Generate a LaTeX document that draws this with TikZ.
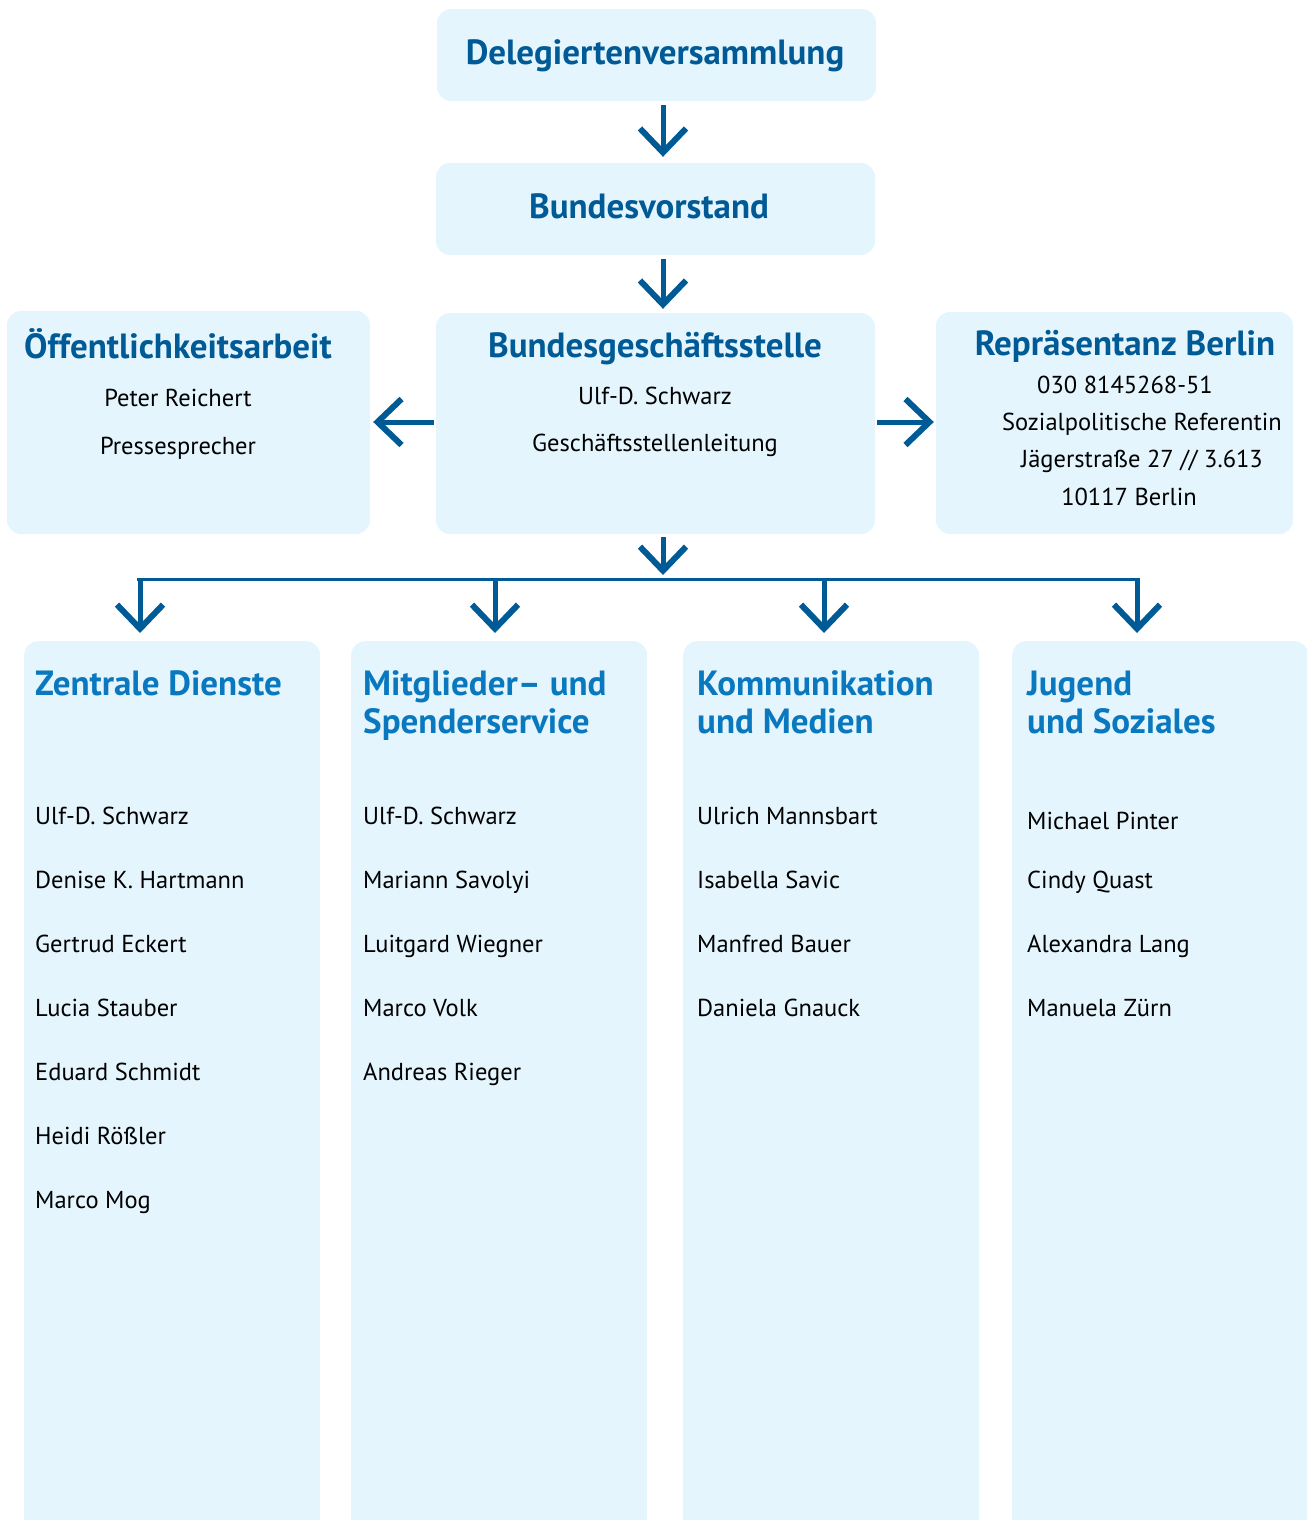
\documentclass[tikz,border=0pt]{standalone}
\usepackage{fontspec}
\setmainfont{PT Sans}
\usetikzlibrary{arrows.meta}
\definecolor{dunkelblau}{HTML}{005A96}
\definecolor{hellblau}{HTML}{0A78BE}
\definecolor{kasten}{HTML}{E4F5FD}
\begin{document}
\begin{tikzpicture}[x=1pt,y=-1pt,
  box/.style={fill=kasten,rounded corners=14pt,inner sep=0pt},
  titel/.style={font=\bfseries\fontsize{35}{40}\selectfont,text=dunkelblau,inner sep=0pt,anchor=base},
  abt/.style={font=\bfseries\fontsize{35}{40}\selectfont,text=hellblau,inner sep=0pt,anchor=base west},
  txt/.style={font=\fontsize{24.5}{28}\selectfont,inner sep=0pt,anchor=base},
  person/.style={font=\fontsize{24.5}{28}\selectfont,inner sep=0pt,anchor=base west},
  pfeil/.style={draw=dunkelblau,line width=5pt,-{Straight Barb[length=24pt,width=46pt,line width=6pt]}}
]
\useasboundingbox (0,0) rectangle (1307,1520);
\clip (0,0) rectangle (1307,1520);
% obere Kaesten
\node[box,minimum width=439pt,minimum height=92pt] (DV) at (656.5,55) {};
\node[titel] at (655,65) {Delegiertenversammlung};
\node[box,minimum width=439pt,minimum height=92pt] (BV) at (655.5,209) {};
\node[titel] at (649,218) {Bundesvorstand};
\node[box,minimum width=439pt,minimum height=221pt] (BG) at (655.5,423.5) {};
\node[titel] at (655,357) {Bundesgeschäftsstelle};
\node[txt] at (655,404) {Ulf-D. Schwarz};
\node[txt] at (655,451) {Geschäftsstellenleitung};
\node[box,minimum width=363pt,minimum height=223pt] (OA) at (188.5,422.5) {};
\node[titel] at (178,358) {Öffentlichkeitsarbeit};
\node[txt] at (178,406) {Peter Reichert};
\node[txt] at (178,454) {Pressesprecher};
\node[box,minimum width=357pt,minimum height=222pt] (RB) at (1114.5,423) {};
\node[titel] at (1125,355) {Repräsentanz Berlin};
\node[txt] at (1125,393) {030 8145268-51};
\node[txt] at (1142,430) {Sozialpolitische Referentin};
\node[txt] at (1142,467) {Jägerstraße 27 // 3.613};
\node[txt] at (1129,505) {10117 Berlin};
% Abteilungen
\node[box,minimum width=296pt,minimum height=920pt,anchor=north west] (ZD) at (24,641) {};
\node[abt] at (35,695) {Zentrale Dienste};
\node[person] at (35,824) {Ulf-D. Schwarz};
\node[person] at (35,888) {Denise K. Hartmann};
\node[person] at (35,952) {Gertrud Eckert};
\node[person] at (35,1016) {Lucia Stauber};
\node[person] at (35,1080) {Eduard Schmidt};
\node[person] at (35,1144) {Heidi Rößler};
\node[person] at (35,1208) {Marco Mog};
\node[box,minimum width=296pt,minimum height=920pt,anchor=north west] (MS) at (351,641) {};
\node[abt] at (363,695) {Mitglieder– und};
\node[abt] at (363,733) {Spenderservice};
\node[person] at (363,824) {Ulf-D. Schwarz};
\node[person] at (363,888) {Mariann Savolyi};
\node[person] at (363,952) {Luitgard Wiegner};
\node[person] at (363,1016) {Marco Volk};
\node[person] at (363,1080) {Andreas Rieger};
\node[box,minimum width=296pt,minimum height=920pt,anchor=north west] (KM) at (683,641) {};
\node[abt] at (697,695) {Kommunikation};
\node[abt] at (697,733) {und Medien};
\node[person] at (697,824) {Ulrich Mannsbart};
\node[person] at (697,888) {Isabella Savic};
\node[person] at (697,952) {Manfred Bauer};
\node[person] at (697,1016) {Daniela Gnauck};
\node[box,minimum width=296pt,minimum height=920pt,anchor=north west] (JS) at (1012,641) {};
\node[abt] at (1027,695) {Jugend};
\node[abt] at (1027,733) {und Soziales};
\node[person] at (1027,829) {Michael Pinter};
\node[person] at (1027,888) {Cindy Quast};
\node[person] at (1027,952) {Alexandra Lang};
\node[person] at (1027,1016) {Manuela Zürn};
% Verteiler
\coordinate (X) at (663,0);
\coordinate (Y) at (0,422);
\coordinate (M) at (663,579);
\coordinate (L) at (137,579);
\coordinate (R) at (1140,579);
\coordinate (A1) at (140,579);
\coordinate (A2) at (495,579);
\coordinate (A3) at (824,579);
\coordinate (A4) at (1137,579);
\path
  (DV.south -| X) edge [pfeil,shorten <=4pt,shorten >=6pt] (BV.north -| X)
  (BV.south -| X) edge [pfeil,shorten <=4pt,shorten >=4pt] (BG.north -| X)
  (BG.west |- Y) edge [pfeil,shorten <=2pt,shorten >=3pt] (OA.east |- Y)
  (BG.east |- Y) edge [pfeil,shorten <=2pt,shorten >=2pt] (RB.west |- Y)
  (BG.south -| M) edge [pfeil,shorten <=3pt,shorten >=4pt] (M)
  (L) edge [draw=dunkelblau,line width=3pt] (R)
  (A1) edge [pfeil,shorten >=8pt] (A1 |- ZD.north)
  (A2) edge [pfeil,shorten >=8pt] (A2 |- MS.north)
  (A3) edge [pfeil,shorten >=8pt] (A3 |- KM.north)
  (A4) edge [pfeil,shorten >=8pt] (A4 |- JS.north)
;
\end{tikzpicture}
\end{document}
